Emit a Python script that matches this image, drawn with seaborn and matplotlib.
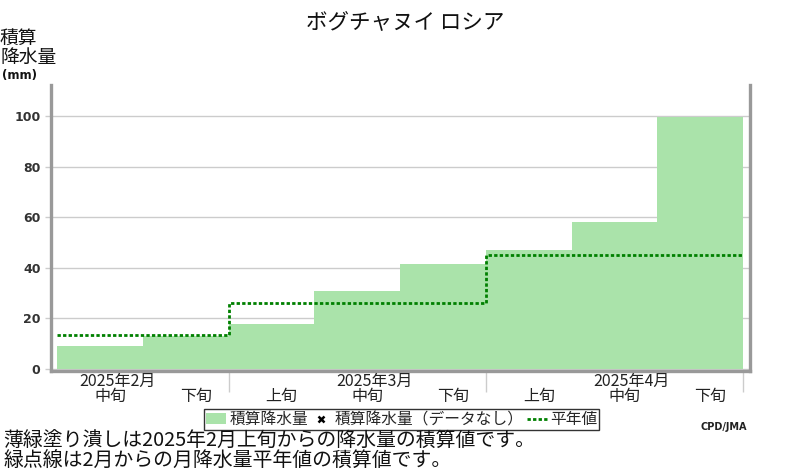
import numpy as np
import pandas as pd
import matplotlib
matplotlib.use('Agg')
import matplotlib.pyplot as plt
from matplotlib.patches import Patch
from matplotlib.lines import Line2D
from matplotlib.transforms import blended_transform_factory
import seaborn as sns

# データ
title = 'ボグチャヌイ ロシア'
periods = ['中旬', '下旬', '上旬', '中旬', '下旬', '上旬', '中旬', '下旬']
months = ['2025年2月', '2025年3月', '2025年4月']
periods_per_month = [2, 3, 3]
month_label_at = [0, 3, 6]
precip_cum = [9, 13, 17.6, 30.8, 41.5, 47, 58, 99.7]   # 積算降水量 (mm)
normal_cum = [13.5, 26, 45]                           # 平年値の積算 (月ごと)

sns.set_theme(style='white')
plt.rcParams['font.family'] = ['Noto Sans CJK JP', 'DejaVu Sans']

fig = plt.figure(figsize=(8, 4.7), dpi=100)
ax = fig.add_axes([51 / 800, 1 - 371 / 470, 699 / 800, 286 / 470])

df = pd.DataFrame({'period': range(len(periods)), 'precip': precip_cum})
sns.barplot(data=df, x='period', y='precip', color='#aae3aa', saturation=1,
            width=1.0, native_scale=True, linewidth=0, edgecolor='none',
            ax=ax, zorder=2)

# 平年値の積算 (階段状の点線)
edges = np.concatenate([[0], np.cumsum(periods_per_month)]) - 0.5
normal_df = pd.DataFrame({'x': edges, 'y': normal_cum + [normal_cum[-1]]})
sns.lineplot(data=normal_df, x='x', y='y', drawstyle='steps-post', color='#008000',
             linestyle=(0, (1.2, 0.8)), linewidth=2, ax=ax, zorder=3)

ax.set_xlim(-0.57, 7.58)
ax.set_ylim(-0.8, 112.3)
ax.set_xlabel('')
ax.set_ylabel('')

# 軸の枠
for side in ['left', 'right', 'bottom']:
    ax.spines[side].set_visible(True)
    ax.spines[side].set_color('#999999')
    ax.spines[side].set_linewidth(2.4)
ax.spines['top'].set_visible(False)

ax.set_yticks([0, 20, 40, 60, 80, 100])
ax.yaxis.grid(True, color='#cccccc', linewidth=1)
ax.tick_params(axis='y', left=True, length=4, width=1, color='#cccccc', pad=3.6,
               labelsize=9, labelcolor='#333333')
for lab in ax.get_yticklabels():
    lab.set_fontfamily('DejaVu Sans')
    lab.set_fontweight('bold')

# x軸: 月の区切り目盛り
ax.set_xticks(edges[1:])
ax.set_xticklabels([''] * (len(edges) - 1))
ax.tick_params(axis='x', bottom=True, length=15, width=1, color='#cccccc')

trans = blended_transform_factory(ax.transData, ax.transAxes)
for i, p in enumerate(periods):
    ax.text(i + 0.12, -0.09, p, transform=trans, ha='center', va='center',
            fontsize=11.5, color='#222222')
for m, i in zip(months, month_label_at):
    ax.text(i + 0.2, -0.036, m, transform=trans, ha='center', va='center',
            fontsize=11.5, color='#222222')

# タイトル・軸ラベル
fig.text(0.507, 1 - 22 / 470, title, ha='center', va='center', fontsize=15.5, color='#111111')
fig.text(0.0, 1 - 48 / 470, '積算\n降水量', ha='left', va='center', fontsize=13.5,
         linespacing=0.9, color='#111111')
fig.text(0.003, 1 - 75 / 470, '(mm)', ha='left', va='center', fontsize=8.5,
         fontweight='bold', color='#111111', family='DejaVu Sans')

# 凡例
handles = [Patch(facecolor='#aae3aa', edgecolor='none', label='積算降水量'),
           Line2D([], [], linestyle='none', marker='x', markersize=4, mew=1.8,
                  color='black', label='積算降水量（データなし）'),
           Line2D([], [], color='#008000', linestyle=(0, (1.2, 0.8)), linewidth=2,
                  label='平年値')]
leg = fig.legend(handles=handles, loc='center', bbox_to_anchor=(0.502, 1 - 419.5 / 470),
                 ncol=3, fontsize=11.3, frameon=True, fancybox=False, handlelength=1.3,
                 handletextpad=0.2, columnspacing=0.2, borderpad=0.12,
                 borderaxespad=0)
leg.get_frame().set_edgecolor('black')
leg.get_frame().set_linewidth(1)

fig.text(0.905, 1 - 427 / 470, 'CPD/JMA', ha='center', va='center', fontsize=7,
         fontweight='bold', color='#222222', family='DejaVu Sans')

# 注記
fig.text(0.004, 1 - 441 / 470, '薄緑塗り潰しは2025年2月上旬からの降水量の積算値です。',
         ha='left', va='center', fontsize=14.3, color='#111111')
fig.text(0.004, 1 - 460 / 470, '緑点線は2月からの月降水量平年値の積算値です。',
         ha='left', va='center', fontsize=14.3, color='#111111')

fig.savefig('out.png', dpi=100)
